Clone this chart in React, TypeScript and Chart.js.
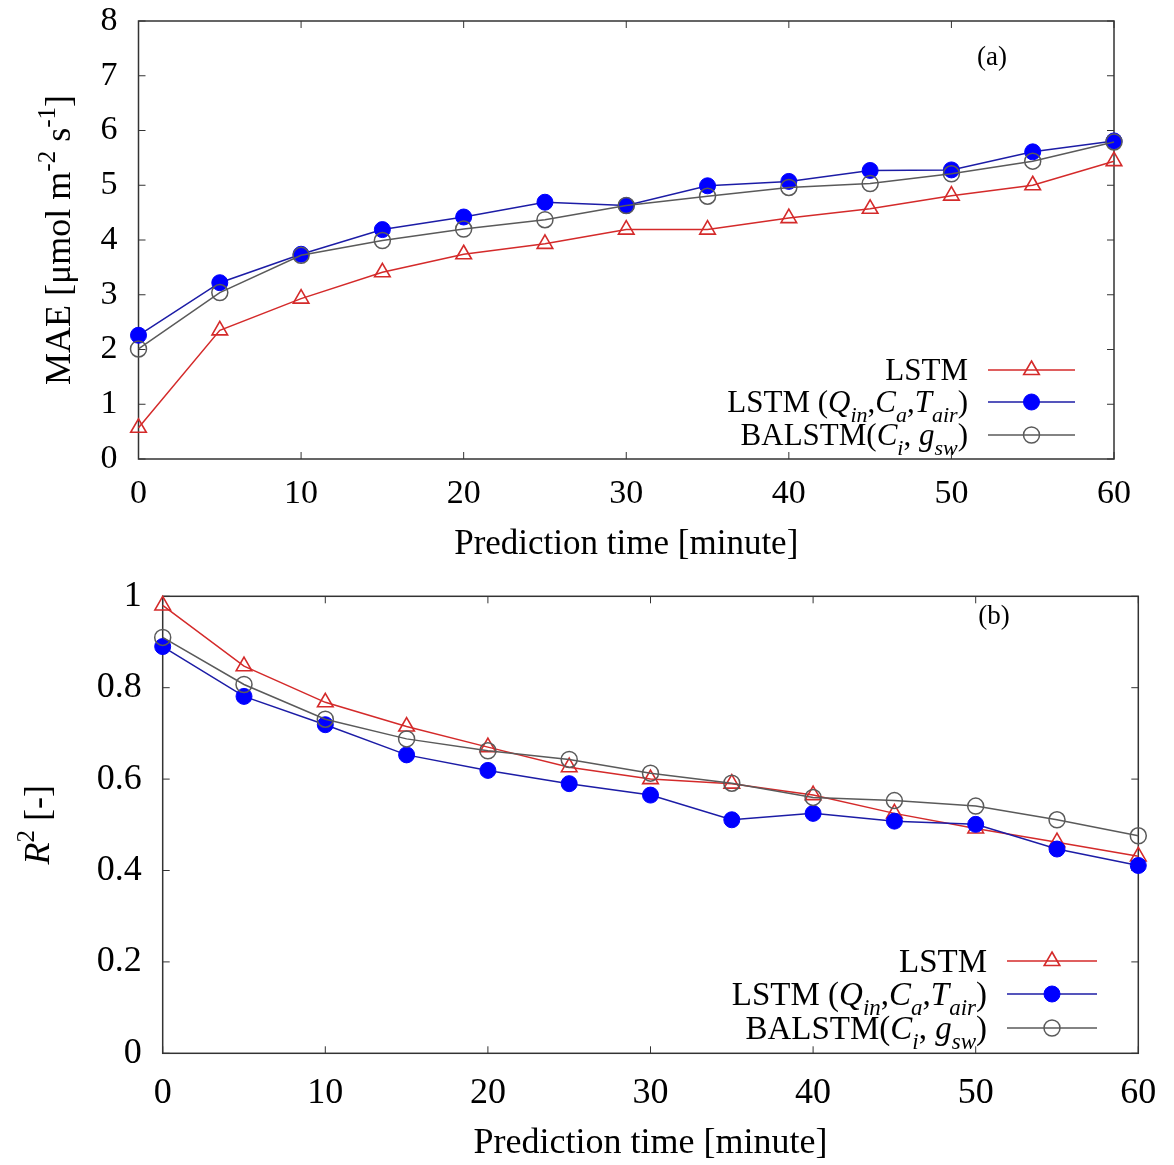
import React, { useEffect, useRef } from 'react';
import { Chart, registerables } from 'chart.js';

Chart.register(...registerables);

const SERIF = '"Liberation Serif", "Times New Roman", Times, serif';

// ---------- data ----------
const minutes = [0, 5, 10, 15, 20, 25, 30, 35, 40, 45, 50, 55, 60];

const maeLSTM = [0.57, 2.35, 2.93, 3.41, 3.74, 3.93, 4.19, 4.19, 4.4, 4.57, 4.81, 5.0, 5.44];
const maeLSTMInputs = [2.26, 3.22, 3.74, 4.19, 4.42, 4.69, 4.63, 4.99, 5.07, 5.27, 5.28, 5.61, 5.81];
const maeBALSTM = [2.01, 3.04, 3.72, 3.99, 4.2, 4.37, 4.63, 4.8, 4.96, 5.03, 5.21, 5.44, 5.79];

const r2LSTM = [0.98, 0.847, 0.768, 0.715, 0.67, 0.626, 0.6, 0.59, 0.565, 0.525, 0.492, 0.462, 0.431];
const r2LSTMInputs = [0.89, 0.781, 0.719, 0.653, 0.619, 0.59, 0.565, 0.511, 0.525, 0.508, 0.501, 0.447, 0.411];
const r2BALSTM = [0.91, 0.807, 0.731, 0.688, 0.662, 0.643, 0.613, 0.591, 0.56, 0.553, 0.541, 0.511, 0.476];

const xTickValues = [0, 10, 20, 30, 40, 50, 60];
const maeTickValues = [0, 1, 2, 3, 4, 5, 6, 7, 8];
const r2TickValues = [0, 0.2, 0.4, 0.6, 0.8, 1];

type Seg = { t: string; it?: boolean; sub?: boolean; sup?: boolean };

const labelLSTM: Seg[] = [{ t: 'LSTM' }];
const labelLSTMInputs: Seg[] = [
  { t: 'LSTM (' },
  { t: 'Q', it: true },
  { t: 'in', it: true, sub: true },
  { t: ',' },
  { t: 'C', it: true },
  { t: 'a', it: true, sub: true },
  { t: ',' },
  { t: 'T', it: true },
  { t: 'air', it: true, sub: true },
  { t: ')' },
];
const labelBALSTM: Seg[] = [
  { t: 'BALSTM(' },
  { t: 'C', it: true },
  { t: 'i', it: true, sub: true },
  { t: ', ' },
  { t: 'g', it: true },
  { t: 'sw', it: true, sub: true },
  { t: ')' },
];

const maeTitle: Seg[] = [
  { t: 'MAE [μmol m' },
  { t: '-2', sup: true },
  { t: ' s' },
  { t: '-1', sup: true },
  { t: ']' },
];
const r2Title: Seg[] = [{ t: 'R', it: true }, { t: '2', sup: true }, { t: ' [-]' }];
const xTitleText = 'Prediction time [minute]';

// ---------- helpers ----------
function fontFor(seg: Seg, size: number) {
  const s = seg.sub || seg.sup ? Math.round(size * 0.7) : size;
  return `${seg.it ? 'italic ' : ''}${s}px ${SERIF}`;
}
function richWidth(ctx: CanvasRenderingContext2D, segs: Seg[], size: number) {
  let w = 0;
  for (const seg of segs) {
    ctx.font = fontFor(seg, size);
    w += ctx.measureText(seg.t).width;
  }
  return w;
}
function drawRich(ctx: CanvasRenderingContext2D, segs: Seg[], x: number, y: number, size: number) {
  let cx = x;
  ctx.textBaseline = 'alphabetic';
  ctx.textAlign = 'left';
  for (const seg of segs) {
    ctx.font = fontFor(seg, size);
    const dy = seg.sub ? size * 0.3 : seg.sup ? -size * 0.42 : 0;
    ctx.fillText(seg.t, cx, y + dy);
    cx += ctx.measureText(seg.t).width;
  }
}
function drawMarker(
  ctx: CanvasRenderingContext2D,
  style: string,
  x: number,
  y: number,
  r: number,
  fill: string,
  stroke: string,
  lw: number
) {
  ctx.beginPath();
  if (style === 'triangle') {
    for (let k = 0; k < 3; k++) {
      const a = (k * 2 * Math.PI) / 3;
      const px = x + Math.sin(a) * r;
      const py = y - Math.cos(a) * r;
      if (k === 0) ctx.moveTo(px, py);
      else ctx.lineTo(px, py);
    }
    ctx.closePath();
  } else {
    ctx.arc(x, y, r, 0, Math.PI * 2);
  }
  ctx.fillStyle = fill;
  ctx.fill();
  ctx.lineWidth = lw;
  ctx.strokeStyle = stroke;
  ctx.stroke();
}

type PanelCfg = {
  top: number;
  height: number;
  yAxisWidth: number;
  xAxisHeight: number;
  padTop: number;
  padRight: number;
  tickSize: number;
  tickPadX: number;
  tickPadY: number;
  xTitleSize: number;
  xTitlePadBottom: number;
  yTitle: Seg[];
  yTitleBaseX: number;
  yTitleSize: number;
  yMax: number;
  yTicks: number[];
  series: number[][];
  legend: { textRight: number; x1: number; x2: number; rows: number[]; size: number };
  panel: { text: string; x: number; y: number; size: number };
};

const RED = '#d42a2a';
const BLUE_LINE = '#1c1ca6';
const BLUE_FILL = '#0000ff';
const GREY = '#5a5a5a';
const TRANSPARENT = 'rgba(255,255,255,0)';

const seriesLabels = [labelLSTM, labelLSTMInputs, labelBALSTM];

function makeDatasets(series: number[][]) {
  return [
    {
      label: 'LSTM',
      data: minutes.map((m, i) => ({ x: m, y: series[0][i] })),
      borderColor: RED,
      borderWidth: 1.5,
      pointStyle: 'triangle',
      pointRadius: 9,
      pointBorderWidth: 1.6,
      pointBorderColor: RED,
      pointBackgroundColor: TRANSPARENT,
      clip: false,
      order: 2,
    },
    {
      label: 'LSTM (Qin,Ca,Tair)',
      data: minutes.map((m, i) => ({ x: m, y: series[1][i] })),
      borderColor: BLUE_LINE,
      borderWidth: 1.5,
      pointStyle: 'circle',
      pointRadius: 8,
      pointBorderWidth: 1,
      pointBorderColor: BLUE_FILL,
      pointBackgroundColor: BLUE_FILL,
      clip: false,
      order: 1,
    },
    {
      label: 'BALSTM(Ci, gsw)',
      data: minutes.map((m, i) => ({ x: m, y: series[2][i] })),
      borderColor: GREY,
      borderWidth: 1.5,
      pointStyle: 'circle',
      pointRadius: 8,
      pointBorderWidth: 1.5,
      pointBorderColor: GREY,
      pointBackgroundColor: TRANSPARENT,
      clip: false,
      order: 0,
    },
  ];
}

function PlotPanel({ cfg }: { cfg: PanelCfg }) {
  const ref = useRef<HTMLCanvasElement>(null);
  useEffect(() => {
    const canvas = ref.current!;
    const decor = {
      id: 'decor',
      beforeDatasetsDraw(chart: any) {
        const ctx: CanvasRenderingContext2D = chart.ctx;
        const ca = chart.chartArea;
        const xs = chart.scales.x;
        const ys = chart.scales.y;
        ctx.save();
        ctx.strokeStyle = '#333';
        ctx.lineWidth = 1.5;
        ctx.strokeRect(ca.left, ca.top, ca.right - ca.left, ca.bottom - ca.top);
        const L = 7;
        ctx.lineWidth = 1;
        ctx.beginPath();
        xs.ticks.forEach((t: any) => {
          const px = xs.getPixelForValue(t.value);
          ctx.moveTo(px, ca.bottom);
          ctx.lineTo(px, ca.bottom - L);
          ctx.moveTo(px, ca.top);
          ctx.lineTo(px, ca.top + L);
        });
        ys.ticks.forEach((t: any) => {
          const py = ys.getPixelForValue(t.value);
          ctx.moveTo(ca.left, py);
          ctx.lineTo(ca.left + L, py);
          ctx.moveTo(ca.right, py);
          ctx.lineTo(ca.right - L, py);
        });
        ctx.stroke();
        ctx.restore();
      },
      afterDraw(chart: any) {
        const ctx: CanvasRenderingContext2D = chart.ctx;
        const ca = chart.chartArea;
        ctx.save();
        ctx.fillStyle = '#000';
        // y title (rotated rich text)
        const w = richWidth(ctx, cfg.yTitle, cfg.yTitleSize);
        ctx.translate(cfg.yTitleBaseX, (ca.top + ca.bottom) / 2);
        ctx.rotate(-Math.PI / 2);
        drawRich(ctx, cfg.yTitle, -w / 2, 0, cfg.yTitleSize);
        ctx.restore();

        // panel label
        ctx.save();
        ctx.fillStyle = '#000';
        ctx.font = `${cfg.panel.size}px ${SERIF}`;
        ctx.textAlign = 'center';
        ctx.textBaseline = 'middle';
        ctx.fillText(cfg.panel.text, cfg.panel.x, cfg.panel.y);
        ctx.restore();

        // legend
        const lg = cfg.legend;
        chart.data.datasets.forEach((ds: any, i: number) => {
          const y = lg.rows[i];
          ctx.save();
          ctx.fillStyle = '#000';
          const segs = seriesLabels[i];
          const tw = richWidth(ctx, segs, lg.size);
          drawRich(ctx, segs, lg.textRight - tw, y + lg.size * 0.33, lg.size);
          ctx.beginPath();
          ctx.strokeStyle = ds.borderColor;
          ctx.lineWidth = ds.borderWidth;
          ctx.moveTo(lg.x1, y);
          ctx.lineTo(lg.x2, y);
          ctx.stroke();
          drawMarker(
            ctx,
            ds.pointStyle,
            (lg.x1 + lg.x2) / 2,
            y,
            ds.pointRadius,
            ds.pointBackgroundColor,
            ds.pointBorderColor,
            ds.pointBorderWidth
          );
          ctx.restore();
        });
      },
    };

    const chart = new Chart(canvas, {
      type: 'line',
      data: { datasets: makeDatasets(cfg.series) as any },
      options: {
        animation: false,
        responsive: false,
        maintainAspectRatio: false,
        devicePixelRatio: 1,
        layout: {
          autoPadding: false,
          padding: { top: cfg.padTop, right: cfg.padRight, left: 0, bottom: 0 },
        },
        plugins: { legend: { display: false }, tooltip: { enabled: false }, title: { display: false } },
        elements: { line: { tension: 0 } },
        scales: {
          x: {
            type: 'linear',
            min: 0,
            max: 60,
            grid: { display: false, drawTicks: false },
            border: { display: false },
            afterBuildTicks: (s: any) => {
              s.ticks = xTickValues.map((v) => ({ value: v }));
            },
            ticks: {
              color: '#000',
              padding: cfg.tickPadX,
              font: { family: SERIF, size: cfg.tickSize },
              maxRotation: 0,
              autoSkip: false,
              callback: (v: any) => String(Number(v)),
            },
            title: {
              display: true,
              text: xTitleText,
              color: '#000',
              font: { family: SERIF, size: cfg.xTitleSize, lineHeight: 1.2 },
              padding: { top: 0, bottom: cfg.xTitlePadBottom },
            },
            afterFit: (s: any) => {
              s.height = cfg.xAxisHeight;
              s.paddingLeft = 0;
              s.paddingRight = 0;
            },
          },
          y: {
            type: 'linear',
            min: 0,
            max: cfg.yMax,
            grid: { display: false, drawTicks: false },
            border: { display: false },
            afterBuildTicks: (s: any) => {
              s.ticks = cfg.yTicks.map((v) => ({ value: v }));
            },
            ticks: {
              color: '#000',
              padding: cfg.tickPadY,
              font: { family: SERIF, size: cfg.tickSize },
              autoSkip: false,
              callback: (v: any) => String(Number(v)),
            },
            afterFit: (s: any) => {
              s.width = cfg.yAxisWidth;
              s.paddingTop = 0;
              s.paddingBottom = 0;
            },
          },
        },
      } as any,
      plugins: [decor],
    });
    return () => chart.destroy();
  }, [cfg]);
  return (
    <canvas
      ref={ref}
      width={1174}
      height={cfg.height}
      style={{ position: 'absolute', left: 0, top: cfg.top, width: 1174, height: cfg.height }}
    />
  );
}

const topCfg: PanelCfg = {
  top: 0,
  height: 580,
  yAxisWidth: 138.5,
  xAxisHeight: 121,
  padTop: 21,
  padRight: 60,
  tickSize: 34,
  tickPadX: 15,
  tickPadY: 21,
  xTitleSize: 35,
  xTitlePadBottom: 14,
  yTitle: maeTitle,
  yTitleBaseX: 70,
  yTitleSize: 36,
  yMax: 8,
  yTicks: maeTickValues,
  series: [maeLSTM, maeLSTMInputs, maeBALSTM],
  legend: { textRight: 968, x1: 988, x2: 1075, rows: [370, 402, 435], size: 31 },
  panel: { text: '(a)', x: 992, y: 58, size: 27 },
};

const bottomCfg: PanelCfg = {
  top: 580,
  height: 585,
  yAxisWidth: 162.7,
  xAxisHeight: 111.7,
  padTop: 16.3,
  padRight: 35.7,
  tickSize: 36,
  tickPadX: 19,
  tickPadY: 21,
  xTitleSize: 36,
  xTitlePadBottom: 0,
  yTitle: r2Title,
  yTitleBaseX: 49,
  yTitleSize: 36,
  yMax: 1,
  yTicks: r2TickValues,
  series: [r2LSTM, r2LSTMInputs, r2BALSTM],
  legend: { textRight: 987, x1: 1007, x2: 1097, rows: [381, 414, 448], size: 33 },
  panel: { text: '(b)', x: 994, y: 37, size: 27 },
};

export default function App() {
  return (
    <div style={{ position: 'absolute', left: 0, top: 0, width: 1174, height: 1165, background: '#fff' }}>
      <PlotPanel cfg={topCfg} />
      <PlotPanel cfg={bottomCfg} />
    </div>
  );
}
